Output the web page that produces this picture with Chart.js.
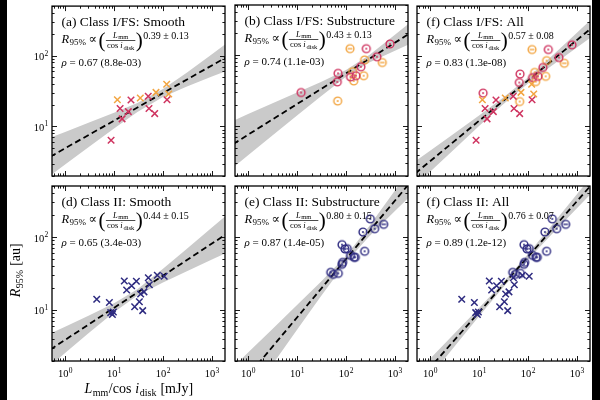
<!DOCTYPE html>
<html><head><meta charset="utf-8">
<script src="https://cdn.jsdelivr.net/npm/chart.js@4.4.1/dist/chart.umd.min.js"></script>
<style>
html,body{margin:0;padding:0;background:#fff;width:600px;height:400px;overflow:hidden}
#wrap{position:relative;width:600px;height:400px;background:#fff}
canvas{position:absolute;left:0;top:0}
.edge{position:absolute;top:0;height:400px;background:#000}
</style></head><body>
<div id="wrap">
<canvas id="c0" width="600" height="400"></canvas>
<canvas id="c1" width="600" height="400"></canvas>
<canvas id="c2" width="600" height="400"></canvas>
<canvas id="c3" width="600" height="400"></canvas>
<canvas id="c4" width="600" height="400"></canvas>
<canvas id="c5" width="600" height="400"></canvas>
<canvas id="lab" width="600" height="400"></canvas>
<div class="edge" style="left:0;width:7px"></div>
<div class="edge" style="left:592px;width:8px"></div>
</div>
<script>
// ---------------- data ----------------
const X_MIN = 0.54, X_MAX = 1850, Y_MIN = 2, Y_MAX = 500;

// Class I/FS, smooth discs (x markers)
const iSmoothRedL = [8.7, 13.3, 14.6, 19.6, 22.2, 50, 51.8, 67.7, 121];
const iSmoothRedR = [6.4, 17.9, 12.8, 16.2, 23.7, 26.7, 17.9, 15.2, 23.9];
const iSmoothOrangeL = [11.7, 34.4, 72, 119, 131];
const iSmoothOrangeR = [23.9, 25.3, 30.3, 39.5, 28.7];
// Class I/FS, substructured discs (ring markers)
const iSubRedL = [12.1, 66.5, 68.7, 124, 160, 202, 260, 429, 791];
const iSubRedR = [29.6, 41.7, 55, 49, 51, 68, 122, 94, 142];
const iSubOrangeL = [67.6, 137, 144, 230, 240];
const iSubOrangeR = [22.5, 58, 43, 51, 85];
const iSubOrangeBarL = [121, 551];
const iSubOrangeBarR = [122, 78];
// Class II
const iiSmoothL = [4.43, 8.03, 8.55, 9.69, 9.25, 16.2, 18.1, 22.9, 28.6, 26.4, 32.9, 35.0, 40.9, 38.5, 50.2, 52.6, 76.6, 106];
const iiSmoothR = [14.0, 12.7, 9.2, 9.4, 8.7, 24.9, 18.8, 21.5, 24.7, 11.1, 13.0, 16.6, 17.7, 9.8, 27.7, 22.2, 29.9, 29.0];
const iiSubL = [48.7, 55.1, 69.6, 82.8, 85.5, 82.8, 95.5, 106, 124, 146, 155, 222, 240, 314, 385];
const iiSubR = [32.8, 30.8, 31.8, 42.3, 45.0, 78.5, 68.5, 69.2, 56.1, 52.7, 52.7, 117, 63.7, 177, 130];
const iiSubBarL = [588];
const iiSubBarR = [149];

// panel texts and fits
const panelTitles = ['(a) Class I/FS: Smooth', '(b) Class I/FS: Substructure', '(f) Class I/FS: All',
                     '(d) Class II: Smooth', '(e) Class II: Substructure', '(f) Class II: All'];
const fitSlope = [0.39, 0.43, 0.57, 0.44, 0.80, 0.76];
const fitSlopeErr = ['0.13', '0.13', '0.08', '0.15', '0.15', '0.07'];
const fitLogNorm = [0.692, 0.88, 0.51, 0.59, 0.098, 0.21];
const rhoText = ['0.67 (8.8e-03)', '0.74 (1.1e-03)', '0.83 (1.3e-08)', '0.65 (3.4e-03)', '0.87 (1.4e-05)', '0.89 (1.2e-12)'];
// confidence band half-widths (dex) read at these luminosities
const bandL = [0.5, 1, 3, 10, 30, 100, 300, 1000, 2000];
const bandHalfA = [0.267, 0.230, 0.173, 0.112, 0.064, 0.056, 0.098, 0.158, 0.194];
const bandHalfB = [0.327, 0.289, 0.228, 0.161, 0.102, 0.048, 0.053, 0.111, 0.148];
const bandHalfC = [0.173, 0.149, 0.113, 0.075, 0.048, 0.043, 0.067, 0.104, 0.127];
const bandHalfD = [0.219, 0.180, 0.120, 0.061, 0.043, 0.094, 0.152, 0.219, 0.257];
const bandHalfE = [0.362, 0.318, 0.246, 0.170, 0.101, 0.043, 0.070, 0.141, 0.184];
const bandHalfF = [0.143, 0.123, 0.091, 0.057, 0.034, 0.037, 0.062, 0.096, 0.116];

// ---------------- style ----------------
const FONT = '"Liberation Serif","Times New Roman",Times,"DejaVu Serif",serif';
const RED = '#cf3460', ORANGE = '#f2a541', NAVY = '#2e2b80', BANDCOL = '#cacaca';

function ringImg(color, kind) {
  const c = document.createElement('canvas'); c.width = 12; c.height = 12;
  const g = c.getContext('2d');
  g.strokeStyle = color; g.fillStyle = color; g.lineWidth = 1.4;
  g.beginPath(); g.arc(6, 6, 3.9, 0, 2 * Math.PI); g.stroke();
  if (kind === 'dot') { g.beginPath(); g.arc(6, 6, 1.0, 0, 2 * Math.PI); g.fill(); }
  else { g.beginPath(); g.moveTo(3.6, 6); g.lineTo(8.4, 6); g.stroke(); }
  return c;
}
const zip = (xs, ys) => xs.map((v, i) => ({x: v, y: ys[i]}));

const smoothI = [['x', RED, iSmoothRedL, iSmoothRedR], ['x', ORANGE, iSmoothOrangeL, iSmoothOrangeR]];
const subI = [['dot', RED, iSubRedL, iSubRedR], ['dot', ORANGE, iSubOrangeL, iSubOrangeR], ['bar', ORANGE, iSubOrangeBarL, iSubOrangeBarR]];
const smoothII = [['x', NAVY, iiSmoothL, iiSmoothR]];
const subII = [['dot', NAVY, iiSubL, iiSubR], ['bar', NAVY, iiSubBarL, iiSubBarR]];

const panels = [
  {box: [52, 3, 225, 176], groups: smoothI, band: bandHalfA, showX: false, showY: true},
  {box: [235, 3, 408, 176], groups: subI, band: bandHalfB, showX: false, showY: false},
  {box: [417, 3, 590, 176], groups: smoothI.concat(subI), band: bandHalfC, showX: false, showY: false},
  {box: [52, 186, 225, 361], groups: smoothII, band: bandHalfD, showX: true, showY: true},
  {box: [235, 186, 408, 361], groups: subII, band: bandHalfE, showX: true, showY: false},
  {box: [417, 186, 590, 361], groups: smoothII.concat(subII), band: bandHalfF, showX: true, showY: false},
];

function drawSup(ctx, base, sup, x, yb, align) {
  ctx.font = '10.5px ' + FONT; const w1 = ctx.measureText(base).width;
  ctx.font = '7.5px ' + FONT; const w2 = ctx.measureText(sup).width;
  let x0 = align === 'center' ? x - (w1 + w2) / 2 : x - (w1 + w2);
  ctx.textAlign = 'left';
  ctx.font = '10.5px ' + FONT; ctx.fillText(base, x0, yb);
  ctx.font = '7.5px ' + FONT; ctx.fillText(sup, x0 + w1 + 0.3, yb - 4.5);
}

function drawEq(ctx, x, yb, slope, err) {
  ctx.textAlign = 'left';
  ctx.font = 'italic 12.5px ' + FONT; ctx.fillText('R', x, yb); x += ctx.measureText('R').width + 0.3;
  ctx.font = '9px ' + FONT; ctx.fillText('95%', x, yb + 2.5); x += ctx.measureText('95%').width + 2.5;
  ctx.font = '12.5px ' + FONT; ctx.fillText('\u221D', x, yb); x += ctx.measureText('\u221D').width + 1.5;
  ctx.font = '21px ' + FONT; ctx.fillText('(', x, yb + 4.5); x += ctx.measureText('(').width + 0.5;
  // fraction
  ctx.font = 'italic 8.5px ' + FONT; const wL = ctx.measureText('L').width;
  ctx.font = '6.5px ' + FONT; const wmm = ctx.measureText('mm').width;
  ctx.font = '8.5px ' + FONT; const wcos = ctx.measureText('cos ').width;
  ctx.font = 'italic 8.5px ' + FONT; const wi = ctx.measureText('i').width;
  ctx.font = '6.5px ' + FONT; const wdisk = ctx.measureText('disk').width;
  const numW = wL + wmm + 0.5, denW = wcos + wi + wdisk + 0.8;
  const fw = Math.max(numW, denW) + 2;
  const bar = yb - 2;
  let nx = x + (fw - numW) / 2;
  ctx.font = 'italic 8.5px ' + FONT; ctx.fillText('L', nx, bar - 2.5);
  ctx.font = '6.5px ' + FONT; ctx.fillText('mm', nx + wL + 0.5, bar - 1.2);
  let dx = x + (fw - denW) / 2;
  ctx.font = '8.5px ' + FONT; ctx.fillText('cos ', dx, bar + 7.5);
  ctx.font = 'italic 8.5px ' + FONT; ctx.fillText('i', dx + wcos, bar + 7.5);
  ctx.font = '6.5px ' + FONT; ctx.fillText('disk', dx + wcos + wi + 0.8, bar + 9);
  ctx.fillRect(x, bar - 0.35, fw, 0.7);
  x += fw + 0.5;
  ctx.font = '21px ' + FONT; ctx.fillText(')', x, yb + 4.5); x += ctx.measureText(')').width + 0.5;
  ctx.font = '10px ' + FONT; ctx.fillText(slope.toFixed(2) + ' \u00B1 ' + err, x, yb - 3.5);
}

function makePlugin(pi) {
  const P = panels[pi];
  return {
    id: 'frame' + pi,
    afterDraw(chart) {
      const ctx = chart.ctx, xs = chart.scales.x, ys = chart.scales.y;
      const {left, right, top, bottom} = chart.chartArea;
      ctx.save();
      ctx.strokeStyle = '#000'; ctx.lineWidth = 0.9;
      ctx.beginPath();
      for (let e = -1; e <= 3; e++) for (let m = 1; m <= 9; m++) {
        const v = m * Math.pow(10, e); if (v < X_MIN || v > X_MAX) continue;
        const px = Math.round(xs.getPixelForValue(v)) + 0.5, len = m === 1 ? 5 : 2.6;
        ctx.moveTo(px, bottom); ctx.lineTo(px, bottom - len);
        ctx.moveTo(px, top); ctx.lineTo(px, top + len);
      }
      for (let e = 0; e <= 2; e++) for (let m = 1; m <= 9; m++) {
        const v = m * Math.pow(10, e); if (v < Y_MIN || v > Y_MAX) continue;
        const py = Math.round(ys.getPixelForValue(v)) + 0.5, len = m === 1 ? 5 : 2.6;
        ctx.moveTo(left, py); ctx.lineTo(left + len, py);
        ctx.moveTo(right, py); ctx.lineTo(right - len, py);
      }
      ctx.stroke();
      ctx.lineWidth = 1.3;
      ctx.strokeRect(left, top, right - left, bottom - top);
      ctx.fillStyle = '#000'; ctx.textBaseline = 'alphabetic';
      if (P.showX) {
        for (let e = 0; e <= 3; e++) drawSup(ctx, '10', String(e), xs.getPixelForValue(Math.pow(10, e)), bottom + 16, 'center');
      }
      if (P.showY) {
        for (let e = 1; e <= 2; e++) drawSup(ctx, '10', String(e), left - 4, ys.getPixelForValue(Math.pow(10, e)) + 4.5, 'right');
      }
      ctx.textAlign = 'left';
      ctx.font = '13.5px ' + FONT; ctx.fillText(panelTitles[pi], left + 9.5, top + 20);
      drawEq(ctx, left + 9.5, top + 36.5, fitSlope[pi], fitSlopeErr[pi]);
      ctx.font = 'italic 11px ' + FONT; ctx.fillText('\u03C1', left + 9.5, top + 60);
      const wr = ctx.measureText('\u03C1').width;
      ctx.font = '11px ' + FONT; ctx.fillText(' = ' + rhoText[pi], left + 9.5 + wr, top + 60);
      ctx.restore();
    }
  };
}

panels.forEach((P, pi) => {
  const ds = [];
  const s = fitSlope[pi], n = fitLogNorm[pi];
  ds.push({type: 'line', data: bandL.map((L, i) => ({x: L, y: Math.pow(10, n + s * Math.log10(L) - P.band[i])})),
           borderColor: 'rgba(0,0,0,0)', borderWidth: 0, pointRadius: 0, fill: false, order: 3, tension: 0});
  ds.push({type: 'line', data: bandL.map((L, i) => ({x: L, y: Math.pow(10, n + s * Math.log10(L) + P.band[i])})),
           borderColor: 'rgba(0,0,0,0)', borderWidth: 0, pointRadius: 0, fill: '-1', backgroundColor: BANDCOL, order: 2, tension: 0});
  const ends = [bandL[0], bandL[bandL.length - 1]];
  ds.push({type: 'line', data: ends.map(L => ({x: L, y: Math.pow(10, n + s * Math.log10(L))})),
           borderColor: '#000', borderWidth: 1.8, borderDash: [6, 3.5], pointRadius: 0, fill: false, order: 1});
  P.groups.forEach(g => {
    const [kind, col, xs, ys] = g;
    if (kind === 'x') {
      ds.push({type: 'scatter', data: zip(xs, ys), pointStyle: 'crossRot', pointRadius: 4.6, pointBorderWidth: 1.5,
               pointBorderColor: col, pointBackgroundColor: col, order: 0});
    } else {
      ds.push({type: 'scatter', data: zip(xs, ys), pointStyle: ringImg(col, kind), pointRadius: 4,
               order: 0});
    }
  });
  const [L, T, R, B] = P.box;
  new Chart(document.getElementById('c' + pi), {
    type: 'scatter',
    data: {datasets: ds},
    options: {
      responsive: false, animation: false, devicePixelRatio: 1, events: [],
      layout: {padding: {left: L, top: T, right: 600 - R, bottom: 400 - B}},
      plugins: {legend: {display: false}, tooltip: {enabled: false}},
      scales: {
        x: {type: 'logarithmic', min: X_MIN, max: X_MAX, display: false},
        y: {type: 'logarithmic', min: Y_MIN, max: Y_MAX, display: false}
      }
    },
    plugins: [makePlugin(pi)]
  });
});

// figure axis labels
(function () {
  const ctx = document.getElementById('lab').getContext('2d');
  ctx.fillStyle = '#000'; ctx.textBaseline = 'alphabetic'; ctx.textAlign = 'left';
  // x label
  const parts = [['italic 14px ', 'L', 0], ['10px ', 'mm', 3], ['14px ', '/cos ', 0], ['italic 14px ', 'i', 0], ['10px ', 'disk', 3], ['14px ', ' [mJy]', 0]];
  let tw = 0; parts.forEach(p => { ctx.font = p[0] + FONT; tw += ctx.measureText(p[1]).width + 0.5; });
  let x = 139 - tw / 2;
  parts.forEach(p => { ctx.font = p[0] + FONT; ctx.fillText(p[1], x, 393 + p[2]); x += ctx.measureText(p[1]).width + 0.5; });
  // y label
  const yp = [['italic 14px ', 'R', 0], ['10px ', '95%', 3], ['14px ', ' [au]', 0]];
  tw = 0; yp.forEach(p => { ctx.font = p[0] + FONT; tw += ctx.measureText(p[1]).width + 0.5; });
  ctx.save(); ctx.translate(20, 270); ctx.rotate(-Math.PI / 2);
  x = -tw / 2;
  yp.forEach(p => { ctx.font = p[0] + FONT; ctx.fillText(p[1], x, p[2]); x += ctx.measureText(p[1]).width + 0.5; });
  ctx.restore();
})();
</script>
</body></html>
